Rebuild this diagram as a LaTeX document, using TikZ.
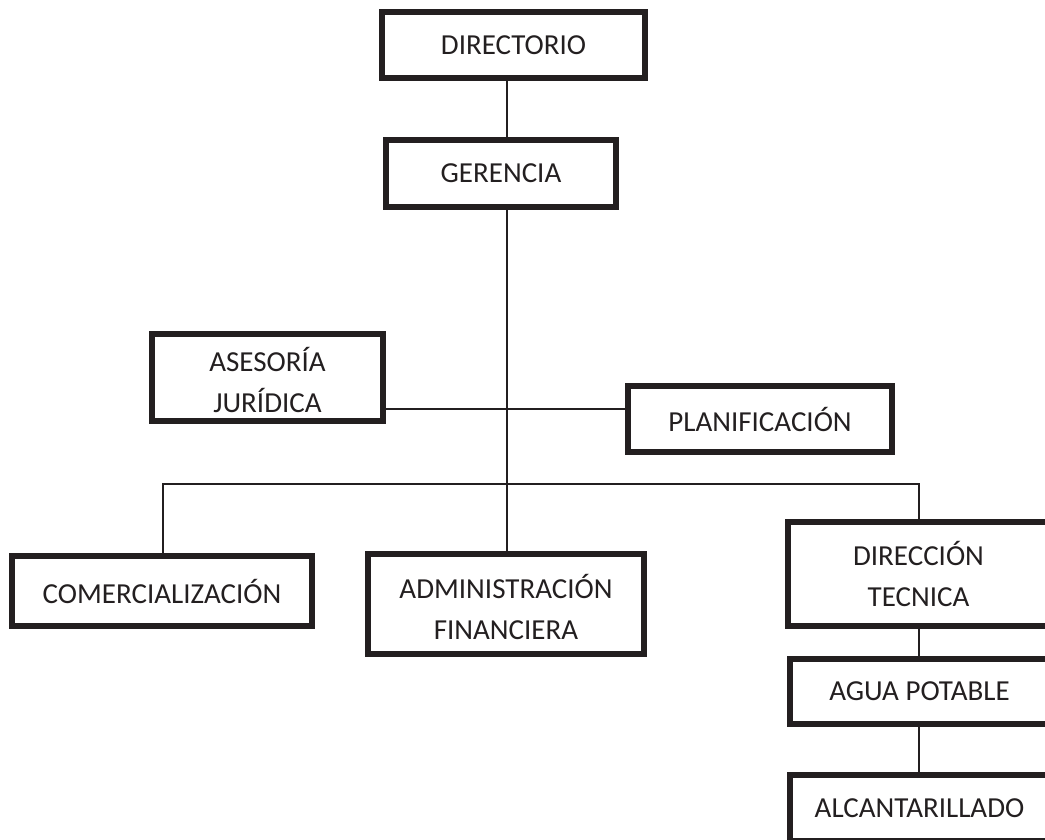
\documentclass[tikz,border=0pt]{standalone}
\usepackage{fontspec}
\setmainfont{Carlito}
\definecolor{ink}{HTML}{231F20}
% an invisible strut that lowers the text block a little
\newcommand{\lowerstrut}{\rule{0pt}{30pt}}
\begin{document}
\begin{tikzpicture}[x=1pt,y=-1pt,
  orgbox/.style={draw=ink, line width=6pt, rectangle, inner sep=0pt,
    align=center, text=ink,
    font=\fontsize{29}{41}\selectfont},
  link/.style={draw=ink, line width=1.8pt}]
  \useasboundingbox (0,0) rectangle (1045,840);
  \begin{scope}
  \clip (0,0) rectangle (1045,840);
  % boxes
  \node[orgbox, minimum width=263pt, minimum height=66pt] (dir)  at (513.5,45)  {DIRECTORIO};
  \node[orgbox, minimum width=230pt, minimum height=67pt] (ger)  at (501,173.5) {GERENCIA};
  \node[orgbox, minimum width=231pt, minimum height=87pt] (ases) at (267.5,377) {\lowerstrut ASESORÍA\\JURÍDICA};
  \node[orgbox, minimum width=264pt, minimum height=66pt] (plan) at (760,419)   {PLANIFICACIÓN};
  \node[orgbox, minimum width=300pt, minimum height=70pt] (com)  at (162,591)   {COMERCIALIZACIÓN};
  \node[orgbox, minimum width=276pt, minimum height=100pt] (adm) at (506,604)   {\lowerstrut ADMINISTRACIÓN\\FINANCIERA};
  \node[orgbox, minimum width=261pt, minimum height=104pt] (dirt) at (918.5,574) {DIRECCIÓN\\TECNICA};
  \node[orgbox, minimum width=259pt, minimum height=65pt] (agua) at (919.5,691.5) {AGUA POTABLE};
  \node[orgbox, minimum width=259pt, minimum height=66pt] (alc)  at (919.5,808)  {ALCANTARILLADO};
  % junction points
  \coordinate (spine) at (507,0);
  \coordinate (jy) at (507,409);
  \coordinate (bl) at (163,484);
  \coordinate (br) at (919,484);
  % connectors
  \draw[link] (dir.south -| spine) -- (ger.north -| spine);
  \draw[link] (ger.south -| spine) -- (adm.north -| spine);
  \draw[link] (ases.east |- jy) -- (plan.west |- jy);
  \draw[link] (com.north -| bl) -- (bl) -- (br) -- (dirt.north -| br);
  \draw[link] (dirt.south -| br) -- (agua.north -| br);
  \draw[link] (agua.south -| br) -- (alc.north -| br);
  \end{scope}
\end{tikzpicture}
\end{document}
